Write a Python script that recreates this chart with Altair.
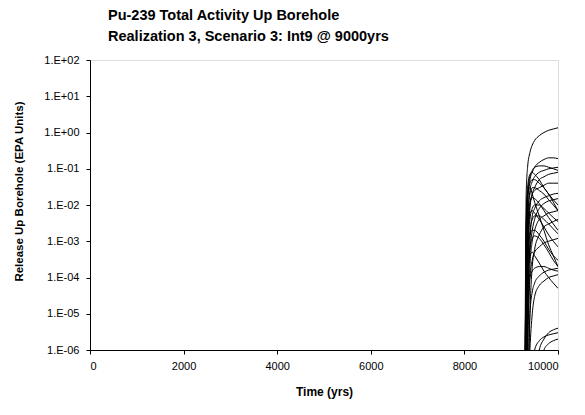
import altair as alt
import pandas as pd

# Time grid (yrs) shared by all realizations' curves
times = [9280, 9300, 9320, 9350, 9400, 9450, 9500, 9600, 9700, 9800, 9900, 10000]

# Release up borehole (EPA units) for each vector
curves = [
    [1e-8, 1e-5, 2e-2, 1.1e-1, 2.8e-1, 4.5e-1, 6e-1, 8.2e-1, 1.0, 1.15, 1.25, 1.35],
    [1e-8, 1e-8, 1e-4, 1e-2, 5e-2, 8e-2, 1.1e-1, 1.5e-1, 1.8e-1, 2e-1, 2e-1, 1.9e-1],
    [1e-8, 1e-6, 1e-3, 2e-2, 6e-2, 9e-2, 1.1e-1, 1.2e-1, 1.2e-1, 1.1e-1, 1e-1, 9e-2],
    [1e-8, 1e-8, 1e-5, 3e-3, 2.5e-2, 4.5e-2, 6e-2, 8e-2, 9e-2, 1e-1, 1.05e-1, 1.1e-1],
    [1e-8, 1e-7, 5e-4, 1.5e-2, 4e-2, 5e-2, 5e-2, 4e-2, 3e-2, 2e-2, 1.4e-2, 1e-2],
    [1e-8, 1e-8, 1e-8, 1e-4, 8e-3, 2e-2, 3e-2, 5e-2, 6e-2, 7e-2, 7.5e-2, 8e-2],
    [1e-8, 1e-6, 3e-3, 3e-2, 7e-2, 8e-2, 7e-2, 5e-2, 3e-2, 2e-2, 1.2e-2, 7e-3],
    [1e-8, 1e-8, 1e-5, 1e-3, 1e-2, 2e-2, 2.5e-2, 3e-2, 3.5e-2, 4e-2, 4e-2, 4e-2],
    [1e-8, 1e-7, 1e-4, 5e-3, 2e-2, 3e-2, 3e-2, 2.5e-2, 2e-2, 1.4e-2, 1e-2, 7e-3],
    [1e-8, 1e-8, 1e-8, 1e-5, 1e-3, 5e-3, 8e-3, 1.3e-2, 1.6e-2, 1.8e-2, 2e-2, 2.1e-2],
    [1e-8, 1e-8, 1e-6, 5e-4, 4e-3, 8e-3, 1e-2, 1e-2, 8e-3, 6e-3, 4.5e-3, 3.5e-3],
    [1e-8, 1e-7, 5e-5, 2e-3, 1.2e-2, 1.6e-2, 1.5e-2, 1.1e-2, 7e-3, 4.5e-3, 3e-3, 2e-3],
    [1e-8, 1e-8, 1e-8, 1e-6, 2e-4, 1e-3, 2e-3, 4e-3, 5e-3, 6e-3, 6.5e-3, 7e-3],
    [1e-8, 1e-8, 1e-7, 1e-4, 2e-3, 4e-3, 5e-3, 5e-3, 4e-3, 3e-3, 2.2e-3, 1.6e-3],
    [1e-8, 1e-8, 1e-8, 1e-8, 1e-5, 2e-4, 6e-4, 1.5e-3, 2.5e-3, 3e-3, 3.5e-3, 4e-3],
    [1e-8, 1e-7, 1e-5, 1e-3, 6e-3, 7e-3, 6e-3, 4e-3, 2.5e-3, 1.5e-3, 1e-3, 7e-4],
    [1e-8, 1e-6, 2e-3, 2e-2, 3e-2, 2e-2, 1.2e-2, 5e-3, 2e-3, 8e-4, 4e-4, 2e-4],
    [1e-8, 1e-8, 1e-6, 2e-4, 1.5e-3, 2e-3, 2e-3, 1.5e-3, 1e-3, 6e-4, 4e-4, 3e-4],
    [1e-8, 1e-8, 1e-8, 1e-6, 1e-4, 3e-4, 5e-4, 7e-4, 9e-4, 1e-3, 1.1e-3, 1.2e-3],
    [1e-8, 1e-8, 1e-7, 1e-5, 1e-4, 1.5e-4, 1.8e-4, 2e-4, 2e-4, 1.8e-4, 1.6e-4, 1.5e-4],
    [1e-8, 1e-8, 1e-8, 1e-7, 1e-5, 4e-5, 7e-5, 1.1e-4, 1.4e-4, 1.6e-4, 1.7e-4, 1.8e-4],
    [1e-8, 1e-8, 1e-6, 1e-4, 4e-4, 5e-4, 4e-4, 2.5e-4, 1.5e-4, 1e-4, 7e-5, 5e-5],
    [1e-8, 1e-8, 1e-8, 1e-8, 1e-6, 1e-5, 3e-5, 6e-5, 8e-5, 1e-4, 1.1e-4, 1.2e-4],
    [1e-8, 1e-8, 1e-8, 1e-8, 1e-8, 1e-7, 1e-6, 1.8e-6, 2.3e-6, 2.6e-6, 2.8e-6, 3e-6],
    [1e-8, 1e-8, 1e-8, 1e-8, 1e-8, 1e-8, 1e-8, 1e-7, 1e-6, 1.5e-6, 1.8e-6, 2e-6],
    [1e-8, 1e-8, 1e-8, 1e-8, 1e-8, 1e-8, 1e-7, 1e-6, 2e-6, 3e-6, 3.6e-6, 4e-6],
    [1e-8, 1e-8, 1e-7, 5e-5, 6e-4, 1.2e-3, 1.4e-3, 1.2e-3, 8e-4, 5e-4, 3e-4, 2e-4],
    [1e-8, 1e-8, 1e-8, 1e-5, 5e-4, 2e-3, 4e-3, 8e-3, 1.1e-2, 1.3e-2, 1.4e-2, 1.5e-2],
]

rows = []
for i, vals in enumerate(curves):
    for t, v in zip(times, vals):
        rows.append({"vector": i, "time": t, "release": v})
df = pd.DataFrame(rows)

x_ticks = [0, 2000, 4000, 6000, 8000, 10000]
y_ticks = [1e-6, 1e-5, 1e-4, 1e-3, 1e-2, 1e-1, 1e0, 1e1, 1e2]

exp = "round(log(datum.value)/LN10)"
label_expr = ("'1.E' + (" + exp + " >= 0 ? '+' : '-') + (abs(" + exp + ") < 10 ? '0' : '') + abs(" + exp + ")")

font = "Liberation Sans"

chart = alt.Chart(df).mark_line(clip=True, color="black", strokeWidth=1, interpolate="monotone").encode(
    x=alt.X("time:Q", scale=alt.Scale(domain=[0, 10000], nice=False),
            axis=alt.Axis(values=x_ticks, title="Time (yrs)", grid=False, format="d",
                          labelFontSize=11, titleFontSize=12, titleFontWeight="bold",
                          labelFont=font, titleFont=font, labelColor="black", titleColor="black",
                          domainColor="black", tickColor="black", tickSize=4, labelPadding=6,
                          titlePadding=15)),
    y=alt.Y("release:Q", scale=alt.Scale(type="log", domain=[1e-6, 1e2], nice=False),
            axis=alt.Axis(values=y_ticks, labelExpr=label_expr, title="Release Up Borehole (EPA Units)",
                          grid=False, labelFontSize=11, titleFontSize=11.5, titleFontWeight="bold",
                          labelFont=font, titleFont=font, labelColor="black", titleColor="black",
                          domainColor="black", tickColor="black", tickSize=4, labelPadding=7,
                          titlePadding=19, titleY=131)),
    detail="vector:N",
).properties(
    width=468,
    height=290,
    title=alt.TitleParams(
        text=["Pu-239 Total Activity Up Borehole", "Realization 3, Scenario 3: Int9 @ 9000yrs"],
        anchor="start", frame="group", dx=18, offset=10, fontSize=14.5, fontWeight="bold", font=font,
        color="black", lineHeight=21,
    ),
    autosize=alt.AutoSizeParams(type="none"),
    padding={"left": 82, "top": 52, "right": 15, "bottom": 50},
).configure_view(stroke="black", strokeWidth=1.2).configure(background="white")

chart.save("out.html", embed_options={"renderer": "svg", "actions": False})
